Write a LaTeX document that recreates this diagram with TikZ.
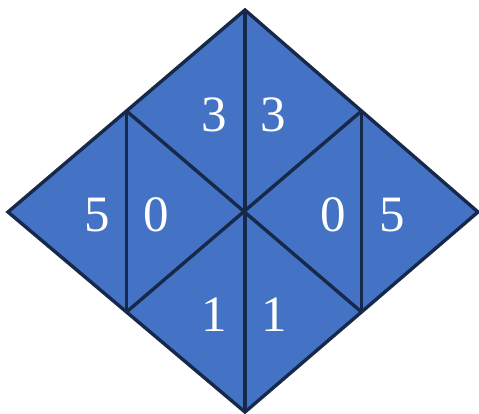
\documentclass[tikz,border=0pt]{standalone}
\usepackage{fontspec}
\setmainfont{Liberation Serif}
\usepackage{tikz}
\definecolor{tileblue}{HTML}{4472C4}
\definecolor{edgenavy}{HTML}{17294A}
\tikzset{
  edge/.style={draw=edgenavy, line width=3.4pt, line join=miter},
  digit/.style={text=white, font=\fontsize{51}{51}\selectfont, inner sep=0pt}
}
\begin{document}
\begin{tikzpicture}[x=1pt,y=-1pt]
\useasboundingbox (0,0) rectangle (479,414);

% Corners of the rhombus
\coordinate (T) at (245,10);
\coordinate (L) at (8,212);
\coordinate (R) at (478,212);
\coordinate (B) at (245,412);
\coordinate (C) at (245,212);

% Edge midpoints
\coordinate (TL) at (126.5,111);
\coordinate (TR) at (361.5,111);
\coordinate (BL) at (126.5,312);
\coordinate (BR) at (361.5,312);

% Tiles
\fill[tileblue] (T) -- (R) -- (B) -- (L) -- cycle;

% Inner lines
\draw[edge] (T) -- (B);
\draw[edge] (TL) -- (BL);
\draw[edge] (TR) -- (BR);
\draw[edge] (TL) -- (BR);
\draw[edge] (TR) -- (BL);

% Outline
\draw[edge] (T) -- (R) -- (B) -- (L) -- cycle;

% Numbers
\node[digit] (n3a) at (214,115) {3};
\node[digit] (n3b) at (273,115) {3};
\node[digit] (n5a) at (97,215) {5};
\node[digit] (n0a) at (156,215) {0};
\node[digit] (n0b) at (333,215) {0};
\node[digit] (n5b) at (392,215) {5};
\node[digit] (n1a) at (214,315) {1};
\node[digit] (n1b) at (274,315) {1};
\end{tikzpicture}
\end{document}
